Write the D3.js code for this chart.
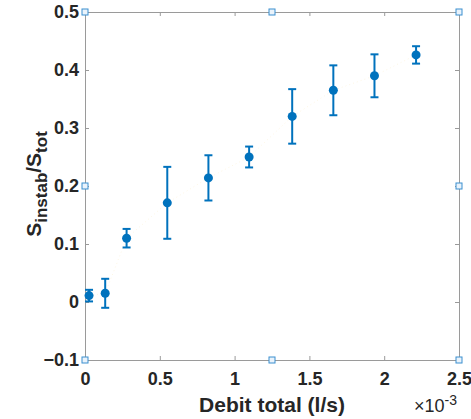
<!DOCTYPE html>
<html><head><meta charset="utf-8">
<script src="https://cdn.jsdelivr.net/npm/d3@7"></script>
<style>body{margin:0;background:#fff}svg{display:block}text{font-family:Arial,"Liberation Sans",sans-serif}</style>
</head><body><svg id="c" width="471" height="419"></svg>
<script>
const xVals = [0.027, 0.135, 0.278, 0.55, 0.825, 1.097, 1.385, 1.66, 1.935, 2.213];
const yVals = [0.011, 0.015, 0.110, 0.171, 0.214, 0.250, 0.320, 0.365, 0.390, 0.426];
const yErr  = [0.010, 0.025, 0.016, 0.062, 0.039, 0.018, 0.047, 0.043, 0.037, 0.015];
const xTicks = [0, 0.5, 1, 1.5, 2, 2.5];
const yTicks = [-0.1, 0, 0.1, 0.2, 0.3, 0.4, 0.5];

const svg = d3.select("#c");
const L = 85, R = 459, T = 12, B = 360;
const x = d3.scaleLinear().domain([0, 2.5]).range([L, R]);
const y = d3.scaleLinear().domain([-0.1, 0.5]).range([B, T]);
const axisCol = "#9a9a9a", txtCol = "#262626", blue = "#0072BD";

const fmt = d => d === 0 ? "0" : d3.format("")(+d.toFixed(1));

function styleAxis(g, showLabels) {
  g.attr("font-size", 18).attr("font-family", "Arial, 'Liberation Sans', sans-serif");
  g.select(".domain").attr("stroke", axisCol).attr("stroke-width", 1);
  g.selectAll(".tick line").attr("stroke", axisCol);
  g.selectAll(".tick text").attr("fill", txtCol).attr("font-weight", "bold");
  if (!showLabels) g.selectAll(".tick text").remove();
}
svg.append("g").attr("transform", `translate(0,${B})`)
  .call(d3.axisBottom(x).tickValues(xTicks).tickSizeInner(-4).tickSizeOuter(0).tickPadding(12).tickFormat(fmt))
  .call(g => styleAxis(g, true));
svg.append("g").attr("transform", `translate(0,${T})`)
  .call(d3.axisTop(x).tickValues(xTicks).tickSizeInner(-4).tickSizeOuter(0).tickFormat(""))
  .call(g => styleAxis(g, false));
svg.append("g").attr("transform", `translate(${L},0)`)
  .call(d3.axisLeft(y).tickValues(yTicks).tickSizeInner(-4).tickSizeOuter(0).tickPadding(6).tickFormat(fmt))
  .call(g => styleAxis(g, true));
svg.append("g").attr("transform", `translate(${R},0)`)
  .call(d3.axisRight(y).tickValues(yTicks).tickSizeInner(-4).tickSizeOuter(0).tickFormat(""))
  .call(g => styleAxis(g, false));

// faint connecting dotted line
const pts = xVals.map((v, i) => [v, yVals[i]]);
svg.append("path").datum(pts)
  .attr("d", d3.line().x(d => x(d[0])).y(d => y(d[1])))
  .attr("fill", "none").attr("stroke", "#EDB120").attr("stroke-opacity", 0.12)
  .attr("stroke-width", 1).attr("stroke-dasharray", "1,3");

// error bars
const eb = svg.append("g").attr("stroke", blue).attr("stroke-width", 2).attr("fill", "none");
pts.forEach((p, i) => {
  const cx = x(p[0]), y1 = y(p[1] + yErr[i]), y0 = y(p[1] - yErr[i]);
  eb.append("line").attr("x1", cx).attr("x2", cx).attr("y1", y1).attr("y2", y0);
  eb.append("line").attr("x1", cx - 4).attr("x2", cx + 4).attr("y1", y1).attr("y2", y1);
  eb.append("line").attr("x1", cx - 4).attr("x2", cx + 4).attr("y1", y0).attr("y2", y0);
});
svg.append("g").selectAll("circle").data(pts).join("circle")
  .attr("cx", d => x(d[0])).attr("cy", d => y(d[1])).attr("r", 4.5).attr("fill", blue);

// selection handles
const hx = [0, 1.25, 2.5], hy = [-0.1, 0.2, 0.5];
const handles = [];
hx.forEach(a => hy.forEach(b => { if (!(a === 1.25 && b === 0.2)) handles.push([a, b]); }));
svg.append("g").selectAll("rect").data(handles).join("rect")
  .attr("x", d => x(d[0]) - 3).attr("y", d => y(d[1]) - 3).attr("width", 6).attr("height", 6)
  .attr("fill", "#eaf3fb").attr("stroke", "#3b8fd0").attr("stroke-width", 1);

// labels
svg.append("text").attr("x", (L + R) / 2).attr("y", 412).attr("text-anchor", "middle")
  .attr("font-size", 21).attr("font-weight", "bold").attr("fill", txtCol).text("Debit total (l/s)");
const ex = svg.append("text").attr("x", 414).attr("y", 412).attr("font-size", 18).attr("fill", txtCol);
ex.append("tspan").text("\u00d710");
ex.append("tspan").attr("dy", -7).attr("font-size", 14).text("-3");

const yl = svg.append("text").attr("transform", "translate(41,184) rotate(-90)")
  .attr("text-anchor", "middle").attr("font-size", 21).attr("font-weight", "bold").attr("fill", txtCol);
yl.append("tspan").text("S");
yl.append("tspan").attr("dy", 6).attr("font-size", 17).text("instab");
yl.append("tspan").attr("dy", -6).text("/S");
yl.append("tspan").attr("dy", 6).attr("font-size", 17).text("tot");
</script></body></html>
